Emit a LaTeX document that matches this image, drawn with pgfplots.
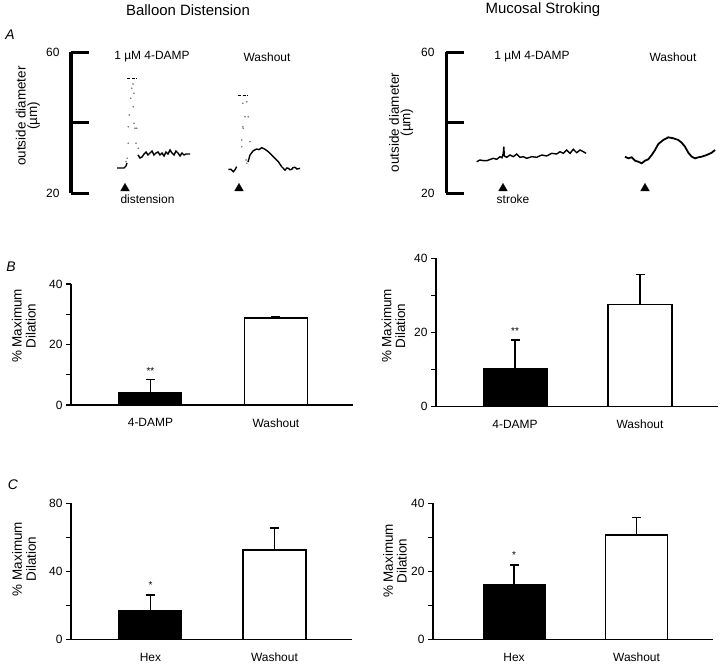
\documentclass[border=0pt]{standalone}
\usepackage{fontspec}
\setmainfont{Liberation Sans}
\usepackage{pgfplots}
\pgfplotsset{compat=1.18}
\newcommand{\fs}{\fontsize{12}{14}\selectfont}
\newcommand{\fl}{\fontsize{13.5}{14}\selectfont}
\pgfplotsset{
 every axis/.append style={/pgf/number format/assume math mode=true,
   tick label style={font=\fs}},
 trace/.style={scale only axis, height=141bp, ymin=20, ymax=60,
   axis x line=none, axis y line=left, xtick=\empty,
   y axis line style={-, line width=3bp},
   ytick={20,40,60}, yticklabels={20,,60}, tick align=inside,
   major tick length=18bp, ytick style={line width=3bp, black},
   yticklabel style={xshift=-8bp}, clip=false,
   ylabel={outside diameter\\(µm)}, ylabel style={font=\fontsize{13.5}{11.5}\selectfont, align=center, anchor=center}},
 bars/.style={scale only axis, axis x line*=bottom, axis y line*=left,
   axis line style={-, line width=1.5bp}, xtick={1,2}, xtick style={draw=none},
   major tick length=5bp, tick align=outside, ytick style={line width=1.2bp, black},
   clip=false, xticklabel style={yshift=-5bp},
   ylabel={\% Maximum\\Dilation}, ylabel style={font=\fl, align=center, anchor=center}},
 errb/.style={error bars/.cd, y dir=plus, y explicit, error mark=|,
   error bar style={line width=1.5bp, black},
   error mark options={line width=1.5bp, black, mark size=4.5bp}},
 tr/.style={black, line width=1.4bp},
 dots/.style={only marks, mark=*, mark size=0.6bp, gray},
 pk/.style={black, line width=1.3bp, dash pattern=on 3bp off 1.5bp},
 tri/.style={only marks, mark=triangle*, mark size=5bp, black},
}
\begin{document}
\begin{tikzpicture}
\path[use as bounding box] (0bp,0bp) rectangle (720bp,-668bp);
\node[font=\fontsize{15}{18}\selectfont] at (188bp,-10bp) {Balloon Distension};
\node[font=\fontsize{15}{18}\selectfont] at (543bp,-10bp) {Mucosal Stroking};
\node[font=\fontsize{14}{16}\selectfont\itshape] at (10bp,-35bp) {A};
\node[font=\fontsize{14}{16}\selectfont\itshape] at (11bp,-267bp) {B};
\node[font=\fontsize{14}{16}\selectfont\itshape] at (13bp,-485bp) {C};

% ---------- A left ----------
\begin{axis}[trace, at={(71bp,-193bp)}, anchor=south west, width=229bp,
  xmin=71, xmax=300, ylabel style={at={(axis description cs:-0.188,0.546)}}]
\addplot[tr] coordinates {(117,27.09) (124,27.09) (126,27.66) (127,28.51)};
\addplot[dots] coordinates {(126,28.88) (127.3,29.84) (128.3,34.10) (128.3,38.81) (129.3,42.13) (130.7,46.87) (131.7,49.70) (133,50.92) (134,48.28) (133.3,44.48) (134,39.77) (135,38.35) (136.7,38.35) (136,34.10) (138.3,32.68)};
\addplot[pk] coordinates {(127,52.54) (137,52.54)};
\addplot[tr] coordinates {(138,30.78) (140,29.93) (142,30.21) (144,31.06) (146,31.63) (148,30.78) (150,31.35) (152,31.91) (154,30.78) (156,31.35) (158,31.63) (160,30.78) (162,31.35) (164,30.50) (166,31.63) (168,31.06) (170,32.20) (172,31.35) (174,30.78) (176,31.91) (178,31.35) (180,30.50) (182,31.35) (184,30.78) (186,31.06) (190,31.06)};
\addplot[tr] coordinates {(228.3,26.72) (231,26.72) (233.3,26.04) (235,26.6) (236.7,27.46)};
\addplot[dots] coordinates {(241.7,35.04) (242.7,38.81) (245,41.65) (246.7,45.90) (242.7,45.45) (248.3,41.65) (243.3,38.35) (250,34.55) (241.7,33.13) (246,29.36) (246.7,28.43)};
\addplot[pk] coordinates {(238,47.6) (248,47.6)};
\addplot[tr] coordinates {(248,28.8) (250,30.78) (253.3,32.0) (256.7,32.48) (259,32.3) (261.7,32.85) (265,32.40) (268.3,31.72) (271.7,30.78) (275,29.84) (278.3,28.88) (281.7,27.46) (285,26.52) (287,27.1) (288.3,27.01) (290,26.6) (291.7,26.72) (293,27.2) (295,27.29) (297,26.8) (300,27.01)};
\addplot[tri] coordinates {(125,21.3) (239,21.3)};
\node[font=\fs] at (axis cs:152,58.6) {1 µM 4-DAMP};
\node[font=\fs] at (axis cs:267,58.6) {Washout};
\node[font=\fs] at (axis cs:147.5,18.3) {distension};
\end{axis}

% ---------- A right ----------
\begin{axis}[trace, at={(446bp,-193bp)}, anchor=south west, width=274bp,
  xmin=446, xmax=720, ylabel style={at={(axis description cs:-0.164,0.5)}}]
\addplot[tr] coordinates {(476.7,28.88) (480,29.36) (483,29.2) (486.7,29.16) (490,29.5) (493.3,29.84) (496.7,29.56) (500,30.30) (502,30.0) (503.3,31.26) (503.8,33.13) (504.3,30.5) (506.7,30.13) (510,30.78) (513.3,30.30) (516.7,31.06) (520,30.13) (523.3,30.30) (526.7,29.84) (531.7,30.30) (536.7,30.13) (541.7,30.78) (546.7,30.50) (551.7,31.26) (556.7,31.06) (560,31.72) (563.3,31.26) (566.7,32.20) (570,31.26) (573.3,32.40) (576.7,31.43) (580,32.20) (583.3,31.72) (586,31.26)};
\addplot[black, line width=1.8bp] coordinates {(625,30.30) (628.3,29.84) (631.7,30.13) (635,29.16) (638.3,28.88) (641.7,28.43) (645,29.16) (648.3,29.56) (651.7,30.78) (655,32.20) (658.3,33.90) (663.3,35.04) (668.3,35.80) (673.3,35.52) (678.3,35.04) (681.7,34.27) (685,33.13) (688.3,31.43) (691.7,30.30) (695,29.84) (698.3,30.13) (701.7,30.30) (706.7,30.78) (711.7,31.43) (715,32.20)};
\addplot[tri] coordinates {(503,21.3) (645,21.3)};
\node[font=\fs] at (axis cs:532,58.6) {1 µM 4-DAMP};
\node[font=\fs] at (axis cs:673,58.6) {Washout};
\node[font=\fs] at (axis cs:513,18.3) {stroke};
\end{axis}

% ---------- B left ----------
\begin{axis}[bars, at={(71bp,-405bp)}, anchor=south west, width=282bp, height=121bp,
  xmin=0.367, xmax=2.614, ymin=0, ymax=40, ytick={0,10,20,30,40}, yticklabels={0,,20,,40},
  xticklabels={4-DAMP,Washout}, ylabel style={at={(axis description cs:-0.167,0.653)}}]
\addplot[ybar, bar width=63bp, fill=black, draw=black, line width=1bp, errb] coordinates {(1,4.1) +- (0,4.4)};
\addplot[ybar, bar width=63bp, fill=white, draw=black, line width=1.5bp, errb] coordinates {(2,28.8) +- (0,0.5)};
\node[font=\fontsize{10}{12}\selectfont] at (axis cs:1,11.2) {**};
\end{axis}

% ---------- B right ----------
\begin{axis}[bars, at={(436bp,-406.7bp)}, anchor=south west, width=282bp, height=148.4bp,
  xmin=0.368, xmax=2.624, ymin=0, ymax=40, ytick={0,10,20,30,40}, yticklabels={0,,20,,40},
  xticklabels={4-DAMP,Washout}, ylabel style={at={(axis description cs:-0.151,0.544)}}]
\addplot[ybar, bar width=64bp, fill=black, draw=black, line width=1bp, errb] coordinates {(1,10.35) +- (0,7.65)};
\addplot[ybar, bar width=64bp, fill=white, draw=black, line width=1.5bp, errb] coordinates {(2,27.6) +- (0,8.1)};
\node[font=\fontsize{10}{12}\selectfont] at (axis cs:1,20.3) {**};
\end{axis}

% ---------- C left ----------
\begin{axis}[bars, at={(71bp,-639.3bp)}, anchor=south west, width=281bp, height=136bp,
  xmin=0.359, xmax=2.625, ymin=0, ymax=80, ytick={0,20,40,60,80}, yticklabels={0,,40,,80},
  xticklabels={Hex,Washout}, ylabel style={at={(axis description cs:-0.167,0.59)}}]
\addplot[ybar, bar width=63bp, fill=black, draw=black, line width=1bp, errb] coordinates {(1,16.8) +- (0,9.3)};
\addplot[ybar, bar width=63bp, fill=white, draw=black, line width=1.5bp, errb] coordinates {(2,52.5) +- (0,13.1)};
\node[font=\fontsize{10}{12}\selectfont] at (axis cs:1,31.8) {*};
\end{axis}

% ---------- C right ----------
\begin{axis}[bars, at={(433bp,-639.3bp)}, anchor=south west, width=280bp, height=136bp,
  xmin=0.339, xmax=2.624, ymin=0, ymax=40, ytick={0,10,20,30,40}, yticklabels={0,,20,,40},
  xticklabels={Hex,Washout}, ylabel style={at={(axis description cs:-0.136,0.576)}}]
\addplot[ybar, bar width=62bp, fill=black, draw=black, line width=1bp, errb] coordinates {(1,16.0) +- (0,5.9)};
\addplot[ybar, bar width=62bp, fill=white, draw=black, line width=1.5bp, errb] coordinates {(2,30.7) +- (0,5.1)};
\node[font=\fontsize{10}{12}\selectfont] at (axis cs:1,24.8) {*};
\end{axis}
\end{tikzpicture}
\end{document}
